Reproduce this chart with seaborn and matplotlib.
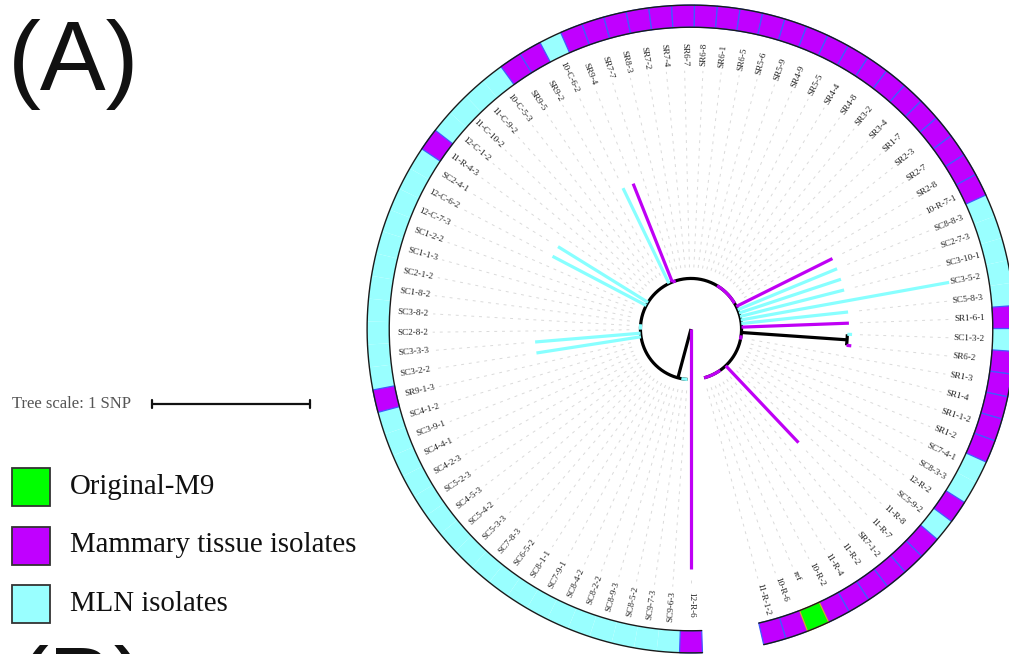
import numpy as np
import pandas as pd
import matplotlib
matplotlib.use("Agg")
import matplotlib.pyplot as plt
from matplotlib.patches import Rectangle
import seaborn as sns

sns.set_theme(style="white")
plt.rcParams["font.family"] = ["Liberation Serif", "DejaVu Serif"]

# ---------------------------------------------------------------- data
leaf_names = [
    "12-R-6", "SC9-6-3", "SC9-7-3", "SC8-5-2", "SC8-9-3", "SC8-2-2", "SC8-4-2",
    "SC7-9-1", "SC8-1-1", "SC6-5-2", "SC7-8-3", "SC5-3-3", "SC5-4-2", "SC4-5-3",
    "SC5-2-3", "SC4-2-3", "SC4-4-1", "SC3-9-1", "SC4-1-2", "SR9-1-3", "SC3-2-2",
    "SC3-3-3", "SC2-8-2", "SC3-8-2", "SC1-8-2", "SC2-1-2", "SC1-1-3", "SC1-2-2",
    "12-C-7-3", "12-C-6-2", "SC2-4-1", "11-R-4-3", "12-C-1-2", "11-C-10-2",
    "11-C-9-2", "10-C-5-3", "SR9-5", "SR9-2", "10-C-6-2", "SR9-4", "SR7-7",
    "SR8-3", "SR7-2", "SR7-4", "SR6-7", "SR6-8", "SR6-1", "SR6-5", "SR5-6",
    "SR5-9", "SR4-9", "SR5-5", "SR4-4", "SR4-8", "SR3-2", "SR3-4", "SR1-7",
    "SR2-3", "SR2-7", "SR2-8", "10-R-7-1", "SC8-8-3", "SC2-7-3", "SC3-10-1",
    "SC3-5-2", "SC5-8-3", "SR1-6-1", "SC1-3-2", "SR6-2", "SR1-3", "SR1-4",
    "SR1-1-2", "SR1-2", "SC7-4-1", "SC8-3-3", "12-R-2", "SC5-9-2", "11-R-8",
    "11-R-7", "SR7-1-2", "11-R-2", "11-R-4", "10-R-2", "ref", "10-R-6", "11-R-1-2",
]
# M = mammary tissue, L = MLN, O = original strain
leaf_groups = [
    "M", "L", "L", "L", "L", "L", "L", "L", "L", "L", "L", "L", "L", "L",
    "L", "L", "L", "L", "L", "M", "L", "L", "L", "L", "L", "L", "L", "L",
    "L", "L", "L", "M", "L", "L", "L", "L", "M", "M", "L", "M", "M", "M",
    "M", "M", "M", "M", "M", "M", "M", "M", "M", "M", "M", "M", "M", "M",
    "M", "M", "M", "M", "M", "L", "L", "L", "L", "L", "M", "L", "M", "M",
    "M", "M", "M", "L", "L", "M", "L", "M", "M", "M", "M", "M", "M", "O",
    "M", "M",
]

# distance from the root (SNPs)
backbone_depth = 0.32
root_leaf = "12-R-6"
root_leaf_depth = 1.52
long_leaves = ["SC3-2-2", "SC3-3-3", "12-C-6-2", "SC2-4-1", "10-C-6-2", "SR9-4",
               "10-R-7-1", "SC8-8-3", "SC2-7-3", "SC3-10-1", "SC3-5-2",
               "SC5-8-3", "SR1-6-1", "11-R-7"]
long_depths = [0.99, 0.99, 0.99, 0.99, 0.99, 0.99,
               1.0, 1.0, 1.0, 1.0, 1.66,
               1.0, 1.0, 0.99]
pair_leaves = ["SC1-3-2", "SR6-2"]
pair_node_depth = 0.99
pair_leaf_depths = [1.0, 1.0]
backbone_node_slot = 3.7
# stretches of the backbone arc shared by one-source clades (leaf slots)
clade_spans = [(1.0, 2.7, "L"), (22.0, 23.5, "L"), (39.0, 40.0, "M"),
               (52.0, 59.0, "M"), (68.3, 69.5, "M"), (80.0, 85.0, "M")]

legend_labels = ["Original-M9", "Mammary tissue isolates", "MLN isolates"]
legend_groups = ["O", "M", "L"]

# ---------------------------------------------------------------- style
W, H = 1009, 654
CX, CY = 691, 329          # tree centre in pixels
PX_PER_SNP = 158.0
RMAX = 2.1
R_LABEL = 1.665
RING_IN, RING_OUT = 1.91, 2.05
ARC_SPAN = 345.0
START = 270.0

ring_colors = {"M": "#c000ff", "L": "#99ffff", "O": "#00ff00"}
ring_edges = {"M": "#3f5bff", "L": "none", "O": "#e09a30"}
branch_colors = {"K": "#000000", "M": "#bf00f5", "L": "#88ffff"}

n = len(leaf_names)
step = ARC_SPAN / (n - 1)
idx = {name: i for i, name in enumerate(leaf_names)}


def slot_angle(s):
    return np.deg2rad(START - step * s)


fig = plt.figure(figsize=(W / 100, H / 100), dpi=100)

# overlay axes in pixel units for legend / scale / panel letters
ov = fig.add_axes([0, 0, 1, 1])
ov.set_xlim(0, W)
ov.set_ylim(H, 0)
ov.set_axis_off()
ov.patch.set_alpha(0)

rpx = RMAX * PX_PER_SNP
ax = fig.add_axes([(CX - rpx) / W, (H - CY - rpx) / H, 2 * rpx / W, 2 * rpx / H],
                  projection="polar")
ax.patch.set_alpha(0)

# ---------------------------------------------------------------- tree segments
segs = []


def add(seg_id, th, r, key):
    for t, rr in zip(th, r):
        segs.append({"seg": seg_id, "theta": t, "r": rr, "key": key})


tip_depth = {name: backbone_depth for name in leaf_names}
tip_depth[root_leaf] = root_leaf_depth
for nm, d in zip(long_leaves, long_depths):
    tip_depth[nm] = d
for nm, d in zip(pair_leaves, pair_leaf_depths):
    tip_depth[nm] = d

k = 0
# root -> backbone node
a = slot_angle(backbone_node_slot)
add(k, [a, a], [0, backbone_depth], "K"); k += 1
# backbone arc
th = np.linspace(slot_angle(1), slot_angle(n - 1), 600)
add(k, th, np.full_like(th, backbone_depth), "K"); k += 1
# internal node holding the pair
pa = [idx[p] for p in pair_leaves]
a_pair = slot_angle(np.mean(pa))
add(k, [a_pair, a_pair], [backbone_depth, pair_node_depth], "K"); k += 1
th = np.linspace(slot_angle(pa[0]), slot_angle(pa[1]), 20)
add(k, th, np.full_like(th, pair_node_depth), "K"); k += 1
black = pd.DataFrame(segs)

segs = []
for s0, s1, g in clade_spans:
    th = np.linspace(slot_angle(s0), slot_angle(s1), 40)
    add(k, th, np.full_like(th, backbone_depth), g); k += 1
a0 = slot_angle(idx[root_leaf])
add(k, [a0, a0], [0, root_leaf_depth], leaf_groups[idx[root_leaf]]); k += 1
for nm in long_leaves:
    a = slot_angle(idx[nm])
    add(k, [a, a], [backbone_depth, tip_depth[nm]], leaf_groups[idx[nm]]); k += 1
for nm in pair_leaves:
    a = slot_angle(idx[nm])
    add(k, [a, a], [pair_node_depth, tip_depth[nm] + 0.02], leaf_groups[idx[nm]]); k += 1
colored = pd.DataFrame(segs)

# dashed guides from tips to labels
for i, nm in enumerate(leaf_names):
    r0 = tip_depth[nm] + 0.07
    if r0 < R_LABEL - 0.05:
        a = slot_angle(i)
        ax.plot([a, a], [r0, R_LABEL - 0.03], color="#dadada", lw=0.7,
                dashes=(3.0, 5.0), zorder=1)

sns.lineplot(data=black, x="theta", y="r", units="seg", estimator=None, sort=False,
             color="black", linewidth=2.3, solid_capstyle="butt", legend=False,
             ax=ax, zorder=3)
sns.lineplot(data=colored, x="theta", y="r", units="seg", hue="key",
             palette=branch_colors, estimator=None, sort=False, linewidth=2.3,
             solid_capstyle="butt", legend=False, ax=ax, zorder=4)

# ---------------------------------------------------------------- ring
thetas = np.array([slot_angle(i) for i in range(n)])
for g in ["L", "M", "O"]:
    sel = [i for i in range(n) if leaf_groups[i] == g]
    ax.bar(thetas[sel], RING_OUT - RING_IN, width=np.deg2rad(step), bottom=RING_IN,
           color=ring_colors[g], edgecolor=ring_edges[g], linewidth=0.9, zorder=5)
th = np.linspace(slot_angle(-0.5), slot_angle(n - 0.5), 800)
for rr in (RING_IN, RING_OUT):
    ax.plot(th, np.full_like(th, rr), color="#1a1a1a", lw=1.0, zorder=6)

# ---------------------------------------------------------------- labels
for i, nm in enumerate(leaf_names):
    adeg = START - step * i
    an = ((adeg + 90) % 360) - 90
    if 90 <= an < 270:
        rot, ha = an - 180, "right"
    else:
        rot, ha = an, "left"
    ax.text(np.deg2rad(adeg), R_LABEL, nm, rotation=rot, rotation_mode="anchor",
            ha=ha, va="center", fontsize=6.6, color="#1e1e1e", zorder=7)

ax.set_ylim(0, RMAX)
ax.set_axis_off()
ax.set_xlabel("")
ax.set_ylabel("")

# ---------------------------------------------------------------- scale, legend, letters
ov.text(12, 404, "Tree scale: 1 SNP", fontsize=12, color="#555555",
        ha="left", va="center")
x0 = 152
ov.plot([x0, x0 + PX_PER_SNP], [404, 404], color="#111111", lw=1.6)
for xx in (x0, x0 + PX_PER_SNP):
    ov.plot([xx, xx], [400, 408], color="#111111", lw=1.6)

for j, (lab, g) in enumerate(zip(legend_labels, legend_groups)):
    y = 468 + j * 58.5
    ov.add_patch(Rectangle((12, y), 38, 38, facecolor=ring_colors[g],
                           edgecolor="#333333", lw=1.3))
    ov.text(70, y + 19, lab, fontsize=20.8, color="#111111", ha="left",
            va="center")

ov.text(8, 90, "(A)", fontsize=71, family=["Liberation Sans", "DejaVu Sans"],
        ha="left", va="baseline", color="#111111")
ov.text(16, 716, "(B)", fontsize=71, family=["Liberation Sans", "DejaVu Sans"],
        ha="left", va="baseline", color="#111111")

fig.savefig("out.png", dpi=100)
